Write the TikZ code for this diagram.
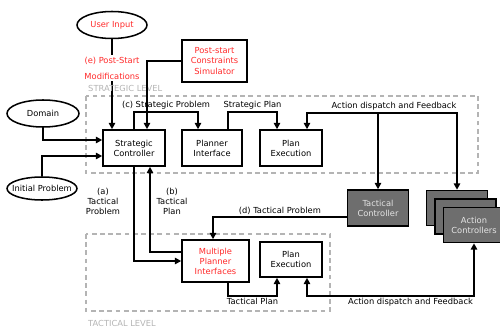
\documentclass[tikz,border=0pt]{standalone}
\usepackage{fontspec}
\setmainfont{DejaVu Sans}
\usetikzlibrary{arrows.meta,calc,shapes.geometric}
\definecolor{alertred}{HTML}{FF2A2A}
\definecolor{ctrlgray}{HTML}{6E6E6E}
\definecolor{levelgray}{HTML}{B4B4B4}
\tikzset{>/.tip={Triangle[length=5.5pt,width=5.5pt]},
  blk/.style={draw,line width=1.3pt,fill=white,align=center,inner sep=0pt},
  oval/.style={draw,ellipse,line width=1.3pt,fill=white,inner sep=0pt},
  ctrl/.style={blk,fill=ctrlgray,text=gray!20},
  flow/.style={->,line width=1.6pt},
  level/.style={draw=levelgray,line width=1.1pt,dash pattern=on 4pt off 3pt},
  levellabel/.style={anchor=west,text=levelgray,inner sep=0pt},
  lbl/.style={inner sep=1.5pt,align=center}}

\begin{document}
\begin{tikzpicture}[x=0.03cm,y=-0.03cm,font=\fontsize{7.1}{8.6}\selectfont]
\useasboundingbox (0,0) rectangle (500,333);
\draw[level] (86,96) rectangle (478,173);
\draw[level] (86,234) rectangle (330,311);

\node[oval,minimum width=2.1cm,minimum height=0.81cm,text=alertred] (user) at (112,25) {\makebox[0pt]{User Input}};
\node[blk,minimum width=1.95cm,minimum height=1.26cm,text=alertred] (sim) at (214.5,61) {Post-start\\Constraints\\Simulator};
\node[oval,minimum width=2.16cm,minimum height=0.81cm] (domain) at (43,113.5) {\makebox[0pt]{Domain}};
\node[oval,minimum width=2.1cm,minimum height=0.69cm] (init) at (42,188.5) {\makebox[0pt]{Initial Problem}};

\node[blk,minimum width=1.86cm,minimum height=1.08cm] (sc) at (134,148) {Strategic\\Controller};
\node[blk,minimum width=1.8cm,minimum height=1.08cm] (pi) at (212,148) {Planner\\Interface};
\node[blk,minimum width=1.86cm,minimum height=1.08cm] (pe) at (291,148) {Plan\\Execution};

\node[ctrl,minimum width=1.83cm,minimum height=1.08cm] (tc) at (378,208) {Tactical\\Controller};
\node[ctrl,minimum width=1.83cm,minimum height=1.05cm] (acb) at (457,208) {};
\node[ctrl,minimum width=1.83cm,minimum height=1.05cm] (acm) at (465.5,216.5) {};
\node[ctrl,minimum width=1.83cm,minimum height=1.05cm] (acf) at (474,225) {Action\\Controllers};

\node[blk,minimum width=2.01cm,minimum height=1.26cm,text=alertred] (mpi) at (215.5,261) {Multiple\\Planner\\Interfaces};
\node[blk,minimum width=1.86cm,minimum height=1.05cm] (pe2) at (291,259.5) {Plan\\Execution};

\draw[flow] (user.south) -- node[lbl,fill=white,text=alertred,pos=0.32] {(e) Post-Start\\[5pt]Modifications} (user.south |- sc.north);
\node[levellabel] (strat-lbl) at (88,88) {STRATEGIC LEVEL};
\node[levellabel] (tact-lbl) at (88,323) {TACTICAL LEVEL};

\draw[flow] (sim.west) -| ($(sc.north)+(13,0)$);
\draw[flow] (domain.south) |- ($(sc.west)+(0,-8)$);
\draw[flow] (init.north) |- ($(sc.west)+(0,8)$);

\draw[flow] (sc.north) |- node[lbl,above,pos=0.75] {(c) Strategic Problem} ($(pi.north)+(-14,-17)$) -- ($(pi.north)+(-14,0)$);
\draw[flow] ($(pi.north)+(16,0)$) |- node[lbl,above,pos=0.75] {Strategic Plan} ($(pe.north)+(-14,-17)$) -- ($(pe.north)+(-14,0)$);
\draw[flow,<->] ($(pe.north)+(16,0)$) |- node[lbl,above,pos=0.79] {Action dispatch and Feedback} ($(acb.north)+(0,-77)$) -- (acb.north);
\draw[flow] ($(tc.north)+(0,-77)$) -- (tc.north);

\draw[flow] ($(tc.west)+(0,9)$) -| node[lbl,above,pos=0.25] {(d) Tactical Problem} ($(mpi.north)+(-2.5,0)$);
\draw[flow] (sc.south) |- (mpi.west);
\draw[flow] ($(mpi.west)+(0,-9)$) -| ($(sc.south)+(16,0)$);
\node[lbl] (a-lbl) at (103,201) {(a)\\Tactical\\Problem};
\node[lbl] (b-lbl) at (172,201) {(b)\\Tactical\\Plan};

\draw[flow] ($(mpi.south)+(12.5,0)$) |- node[lbl,below,pos=0.75] {Tactical Plan} ($(pe2.south)+(-14,18)$) -- ($(pe2.south)+(-14,0)$);
\draw[flow,<->] (acf.south) |- node[lbl,below,pos=0.69] {Action dispatch and Feedback} ($(pe2.south)+(16,18)$) -- ($(pe2.south)+(16,0)$);
\end{tikzpicture}
\end{document}
